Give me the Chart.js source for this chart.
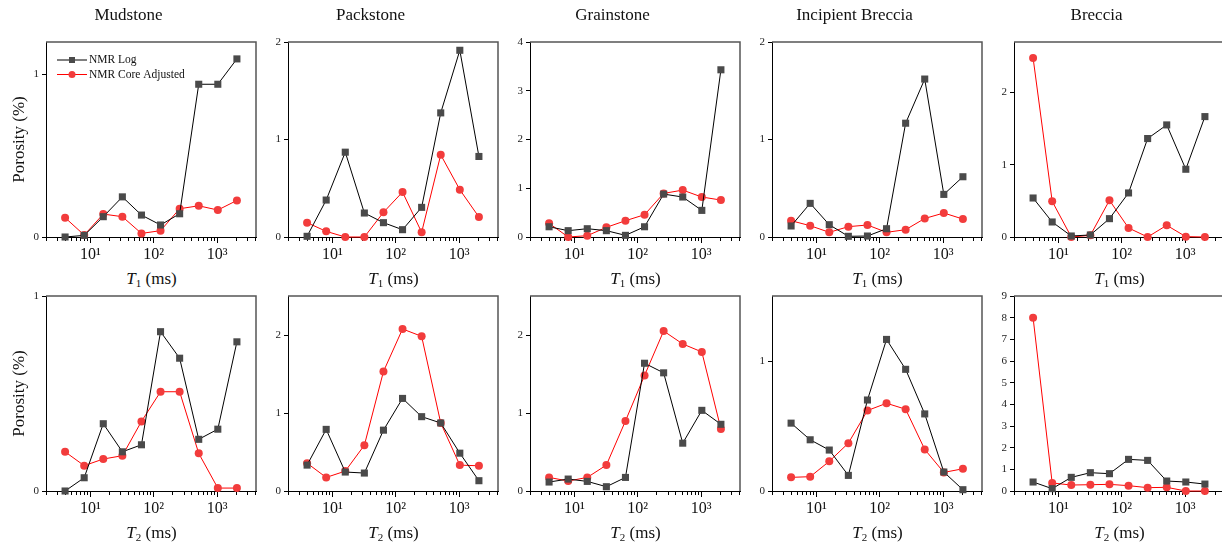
<!DOCTYPE html>
<html>
<head>
<meta charset="utf-8">
<script src="https://cdn.jsdelivr.net/npm/chart.js@4.4.1/dist/chart.umd.min.js"></script>
<style>
    html, body { margin: 0; padding: 0; background: #fff; }
    body { width: 1222px; height: 548px; overflow: hidden; position: relative; font-family: 'Liberation Serif', 'Times New Roman', serif; }
    canvas { position: absolute; }
    .xt { position: absolute; width: 211px; text-align: center; font-size: 17px; line-height: 20px; color: #111; }
    .xt sub { font-size: 11px; vertical-align: -3px; line-height: 0; }
</style>
</head>
<body>
<script>
    'use strict';

    /* relaxation time bins (ms) */
    const times = [4, 8, 16, 32, 64, 128, 256, 512, 1024, 2048];
    const rocks = ['Mudstone', 'Packstone', 'Grainstone', 'Incipient Breccia', 'Breccia'];

    /* T1 row */
    const mudLogT1 = [0, 0.01, 0.125, 0.247, 0.135, 0.074, 0.143, 0.94, 0.94, 1.096];
    const mudCoreT1 = [0.119, 0.012, 0.141, 0.125, 0.022, 0.039, 0.174, 0.192, 0.166, 0.225];
    const packLogT1 = [0.007, 0.379, 0.87, 0.246, 0.147, 0.075, 0.304, 1.273, 1.915, 0.826];
    const packCoreT1 = [0.147, 0.058, 0, 0, 0.253, 0.461, 0.048, 0.843, 0.485, 0.205];
    const grainLogT1 = [0.21, 0.13, 0.17, 0.13, 0.034, 0.21, 0.88, 0.82, 0.546, 3.43];
    const grainCoreT1 = [0.28, 0, 0.027, 0.198, 0.334, 0.457, 0.894, 0.962, 0.82, 0.758];
    const incLogT1 = [0.113, 0.345, 0.126, 0.007, 0.01, 0.085, 1.167, 1.62, 0.437, 0.618];
    const incCoreT1 = [0.167, 0.116, 0.048, 0.106, 0.123, 0.048, 0.075, 0.19, 0.246, 0.184];
    const brecLogT1 = [0.54, 0.208, 0.014, 0.028, 0.254, 0.61, 1.363, 1.552, 0.938, 1.667];
    const brecCoreT1 = [2.48, 0.494, 0, 0.023, 0.508, 0.125, 0, 0.162, 0.005, 0];

    /* T2 row */
    const mudLogT2 = [0, 0.068, 0.345, 0.201, 0.237, 0.817, 0.681, 0.265, 0.317, 0.765];
    const mudCoreT2 = [0.201, 0.13, 0.164, 0.181, 0.357, 0.509, 0.509, 0.193, 0.015, 0.015];
    const packLogT2 = [0.332, 0.79, 0.243, 0.23, 0.78, 1.187, 0.953, 0.872, 0.485, 0.132];
    const packCoreT2 = [0.357, 0.174, 0.255, 0.587, 1.532, 2.077, 1.983, 0.872, 0.332, 0.323];
    const grainLogT2 = [0.115, 0.153, 0.123, 0.055, 0.174, 1.638, 1.515, 0.613, 1.034, 0.855];
    const grainCoreT2 = [0.174, 0.128, 0.174, 0.332, 0.898, 1.481, 2.051, 1.885, 1.783, 0.796];
    const incLogT2 = [0.522, 0.394, 0.315, 0.12, 0.70, 1.166, 0.936, 0.593, 0.146, 0.01];
    const incCoreT2 = [0.105, 0.11, 0.228, 0.368, 0.619, 0.675, 0.629, 0.32, 0.143, 0.171];
    const brecLogT2 = [0.415, 0.108, 0.63, 0.845, 0.8, 1.46, 1.413, 0.46, 0.415, 0.32];
    const brecCoreT2 = [8.0, 0.369, 0.276, 0.29, 0.307, 0.246, 0.154, 0.169, 0, 0];

    const yMaxT1 = [1.2, 2, 4, 2, 2.7];
    const yMaxT2 = [1, 2.5, 2.5, 1.5, 9];

    const xMajorTicks = [10, 100, 1000];
    const xTickLabels = ['10¹', '10²', '10³'];
    const xMinorSteps = [1, 2, 3, 4, 5, 6, 7, 8, 9];
    const xDecades = [1, 10, 100, 1000];

    const logT1 = [mudLogT1, packLogT1, grainLogT1, incLogT1, brecLogT1];
    const coreT1 = [mudCoreT1, packCoreT1, grainCoreT1, incCoreT1, brecCoreT1];
    const logT2 = [mudLogT2, packLogT2, grainLogT2, incLogT2, brecLogT2];
    const coreT2 = [mudCoreT2, packCoreT2, grainCoreT2, incCoreT2, brecCoreT2];

    const FONT = "'Liberation Serif', 'Times New Roman', serif";
    const AREA_W = 211, AREA_H = 195;
    const colLeft = [46, 288, 530, 772, 1014];
    const rowTop = [42, 296];
    const PAD_L = 46, PAD_T = 42, PAD_B = 28, PAD_R = 4;

    const xTickValues = [];
    xDecades.forEach((d) => xMinorSteps.forEach((s) => {
        const v = d * s;
        if (v >= 2 && v <= 4000) xTickValues.push(v);
    }));

    const framePlugin = {
        id: 'frame',
        beforeDatasetsDraw(chart) {
            const { ctx, chartArea: a } = chart;
            ctx.save();
            ctx.strokeStyle = '#555';
            ctx.lineWidth = 1.5;
            ctx.beginPath();
            ctx.moveTo(a.left, a.top);
            ctx.lineTo(a.right, a.top);
            ctx.lineTo(a.right, a.bottom);
            ctx.stroke();
            ctx.restore();
        },
    };

    const legendPlugin = {
        id: 'nmrLegend',
        afterDraw(chart) {
            const { ctx, chartArea: a } = chart;
            ctx.save();
            ctx.font = '11.5px ' + FONT;
            ctx.textBaseline = 'middle';
            chart.data.datasets.forEach((ds, i) => {
                const y = a.top + 18 + i * 14.5;
                const x0 = a.left + 11, x1 = x0 + 30, xm = (x0 + x1) / 2;
                ctx.strokeStyle = ds.borderColor;
                ctx.lineWidth = 1;
                ctx.beginPath();
                ctx.moveTo(x0, y);
                ctx.lineTo(x1, y);
                ctx.stroke();
                ctx.fillStyle = ds.pointBackgroundColor;
                if (ds.pointStyle === 'rect') {
                    ctx.fillRect(xm - 3, y - 3, 6, 6);
                } else {
                    ctx.beginPath();
                    ctx.arc(xm, y, 3.5, 0, Math.PI * 2);
                    ctx.fill();
                }
                ctx.fillStyle = '#111';
                ctx.fillText(ds.label, x1 + 2, y);
            });
            ctx.restore();
        },
    };

    function makePanel(row, col, logVals, coreVals, yMax) {
        const cv = document.createElement('canvas');
        cv.width = PAD_L + AREA_W + PAD_R;
        cv.height = PAD_T + AREA_H + PAD_B;
        cv.style.left = (colLeft[col] - PAD_L) + 'px';
        cv.style.top = (rowTop[row] - PAD_T) + 'px';
        document.body.appendChild(cv);

        const plugins = [framePlugin];
        if (row === 0 && col === 0) plugins.push(legendPlugin);

        new Chart(cv, {
            type: 'line',
            data: {
                datasets: [
                    {
                        label: 'NMR Log',
                        data: times.map((t, i) => ({ x: t, y: logVals[i] })),
                        borderColor: '#000', borderWidth: 1,
                        pointStyle: 'rect', pointRadius: 5,
                        pointBackgroundColor: '#4a4a4a', pointBorderColor: '#4a4a4a', pointBorderWidth: 0,
                        clip: false,
                    },
                    {
                        label: 'NMR Core Adjusted',
                        data: times.map((t, i) => ({ x: t, y: coreVals[i] })),
                        borderColor: '#f00', borderWidth: 1,
                        pointStyle: 'circle', pointRadius: 4,
                        pointBackgroundColor: '#f23c3c', pointBorderColor: '#f23c3c', pointBorderWidth: 0,
                        clip: false,
                    },
                ],
            },
            options: {
                responsive: false,
                animation: false,
                events: [],
                layout: { padding: { top: row === 0 ? 0 : PAD_T, right: PAD_R, left: 0, bottom: 0 } },
                plugins: {
                    legend: { display: false },
                    tooltip: { enabled: false },
                    title: {
                        display: row === 0,
                        text: rocks[col],
                        color: '#111',
                        font: { family: FONT, size: 17, weight: 'normal', lineHeight: 1 },
                        padding: { top: 7, bottom: 18 },
                    },
                },
                scales: {
                    x: {
                        type: 'logarithmic',
                        min: 2, max: 4096,
                        afterFit: (s) => { s.height = PAD_B; },
                        afterBuildTicks: (s) => { s.ticks = xTickValues.map((v) => ({ value: v })); },
                        ticks: {
                            autoSkip: false, maxRotation: 0, minRotation: 0, padding: 2,
                            color: '#111',
                            font: { family: FONT, size: 16 },
                            callback: (v) => {
                                const k = xMajorTicks.indexOf(v);
                                return k >= 0 ? xTickLabels[k] : '';
                            },
                        },
                        grid: {
                            drawOnChartArea: false, tickLength: 6, color: '#000', tickColor: '#000',
                            tickBorderDash: (c) => (c.tick && xMajorTicks.includes(c.tick.value) ? [] : [3, 20]),
                        },
                        border: { color: '#000', width: 1 },
                    },
                    y: {
                        min: 0, max: yMax,
                        afterFit: (s) => { s.width = PAD_L; },
                        ticks: {
                            stepSize: 1, includeBounds: false, padding: 3,
                            color: '#222',
                            font: { family: FONT, size: 11 },
                        },
                        grid: { drawOnChartArea: false, tickLength: 4, color: '#000' },
                        border: { color: '#000', width: 1 },
                        title: {
                            display: col === 0,
                            text: 'Porosity (%)',
                            color: '#111',
                            font: { family: FONT, size: 17 },
                            padding: { top: 9, bottom: 0 },
                        },
                    },
                },
            },
            plugins,
        });

        const xt = document.createElement('div');
        xt.className = 'xt';
        xt.style.left = colLeft[col] + 'px';
        xt.style.top = (rowTop[row] + AREA_H + 32) + 'px';
        xt.innerHTML = '<i>T</i><sub>' + (row + 1) + '</sub> (ms)';
        document.body.appendChild(xt);
    }

    rocks.forEach((r, c) => {
        makePanel(0, c, logT1[c], coreT1[c], yMaxT1[c]);
        makePanel(1, c, logT2[c], coreT2[c], yMaxT2[c]);
    });
</script>
</body>
</html>
